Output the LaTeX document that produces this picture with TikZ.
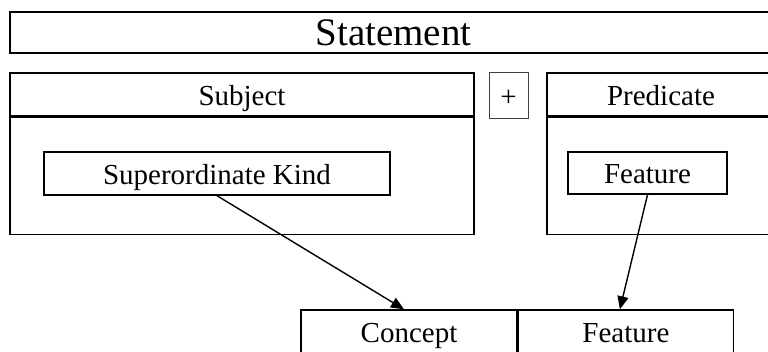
\documentclass[tikz,border=0pt]{standalone}
\usepackage{fontspec}
\setmainfont{Liberation Serif}
\usetikzlibrary{arrows.meta}

\tikzset{
  box/.style={draw=black, line width=1.4pt, rectangle, inner sep=0pt,
              text height=22pt, text depth=0pt,
              font=\fontsize{29}{32}\selectfont},
  bigbox/.style={box, text height=27pt, font=\fontsize{39}{42}\selectfont},
  plusbox/.style={draw=black!75, line width=1pt, rectangle, inner sep=0pt,
                  text height=22pt, text depth=0pt,
                  font=\fontsize{29}{32}\selectfont},
  link/.style={line width=1.4pt, -{Triangle[length=13pt,width=11pt]}}
}

\begin{document}
\begin{tikzpicture}[x=1pt,y=-1pt]
  \clip (0,0) rectangle (768,352);
  \fill[white] (0,0) rectangle (768,352);

  % heading
  \node[bigbox, minimum width=767pt, minimum height=41pt] (statement) at (393.5,32.5) {Statement};

  % subject part
  \node[box, minimum width=464pt, minimum height=43pt] (subjhead) at (242,94.5) {Subject};
  \node[box, minimum width=464pt, minimum height=117pt, anchor=north] (subjbody) at (subjhead.south) {};
  \node[box, minimum width=346pt, minimum height=43pt] (superkind) at (217,173.5) {Superordinate Kind};

  % plus sign
  \node[plusbox, minimum width=39pt, minimum height=46pt] (plus) at (508.5,96) {+};

  % predicate part
  \node[box, minimum width=228pt, minimum height=43pt] (predhead) at (661,94.5) {Predicate};
  \node[box, minimum width=228pt, minimum height=117pt, anchor=north] (predbody) at (predhead.south) {};
  \node[box, minimum width=159pt, minimum height=42pt] (featuretop) at (647.5,173) {Feature};

  % concept / feature pair
  \node[box, minimum width=216pt, minimum height=43pt] (concept) at (409,331.5) {Concept};
  \node[box, minimum width=215pt, minimum height=43pt, anchor=west] (featurebot) at (concept.east) {Feature};

  % connectors
  \draw[link] (superkind.south) -- ([xshift=-5pt]concept.north);
  \draw[link] (featuretop.south) -- ([xshift=-6pt]featurebot.north);
\end{tikzpicture}
\end{document}
